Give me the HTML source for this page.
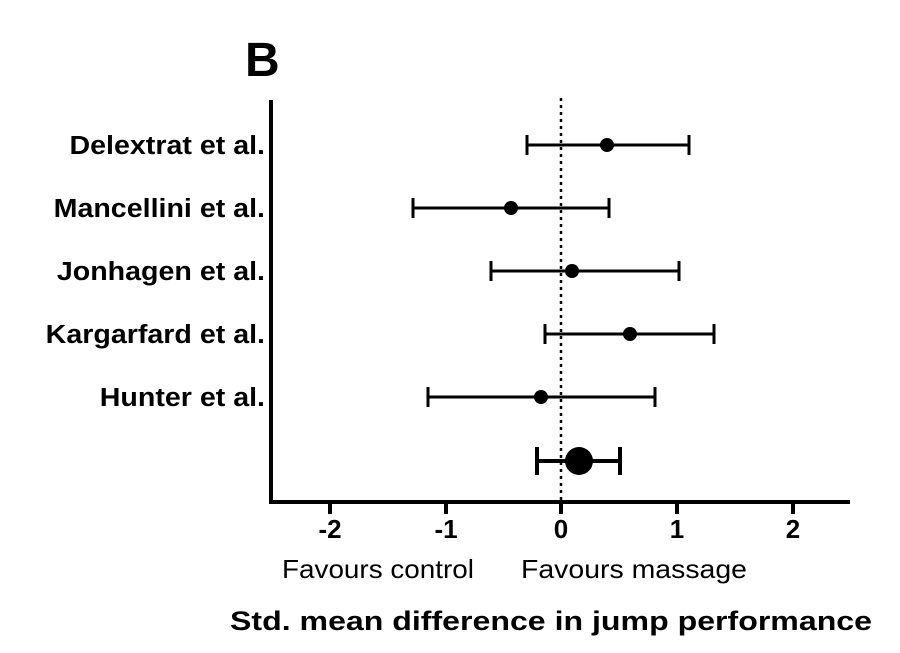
<!DOCTYPE html>
<html><head><style>body{margin:0;background:#fff}</style></head><body>
<svg width="900" height="648" xmlns="http://www.w3.org/2000/svg" font-family="Liberation Sans, sans-serif">
<rect width="900" height="648" fill="#fff"/>
<text x="245" y="76" font-size="48" font-weight="bold">B</text>
<g stroke="#000" stroke-width="4" fill="none">
<path d="M271 100 V502 H850"/>
<path d="M330 502v12M446 502v12M561 502v12M677 502v12M793 502v12"/>
</g>
<line x1="561" y1="98" x2="561" y2="500" stroke="#000" stroke-width="2.5" stroke-dasharray="3,4"/>
<g stroke="#000" stroke-width="3">
<path d="M527 145H689M527 135v20M689 135v20"/>
<path d="M413 208H609M413 198v20M609 198v20"/>
<path d="M491 271H679M491 261v20M679 261v20"/>
<path d="M545 334H714M545 324v20M714 324v20"/>
<path d="M428 397H655M428 387v20M655 387v20"/>
</g>
<g stroke="#000" stroke-width="4">
<path d="M537 461H620M537 447v28M620 447v28"/>
</g>
<g fill="#000">
<circle cx="607" cy="145" r="7"/>
<circle cx="511" cy="208" r="7"/>
<circle cx="572" cy="271" r="7"/>
<circle cx="630" cy="334" r="7"/>
<circle cx="541" cy="397" r="7"/>
<circle cx="579" cy="461" r="14"/>
</g>
<g font-size="26" font-weight="bold" text-anchor="end" transform="translate(265,0) scale(1.1,1) translate(-265,0)">
<text x="265" y="154">Delextrat et al.</text>
<text x="265" y="217">Mancellini et al.</text>
<text x="265" y="280">Jonhagen et al.</text>
<text x="265" y="343">Kargarfard et al.</text>
<text x="265" y="406">Hunter et al.</text>
</g>
<g font-size="26" font-weight="bold" text-anchor="middle">
<text x="330" y="538">-2</text><text x="446" y="538">-1</text><text x="561" y="538">0</text><text x="677" y="538">1</text><text x="793" y="538">2</text>
</g>
<text x="378" y="578" font-size="26" text-anchor="middle" textLength="192" lengthAdjust="spacingAndGlyphs">Favours control</text>
<text x="634" y="578" font-size="26" text-anchor="middle" textLength="226" lengthAdjust="spacingAndGlyphs">Favours massage</text>
<text x="551" y="630" font-size="27" font-weight="bold" text-anchor="middle" textLength="642" lengthAdjust="spacingAndGlyphs">Std. mean difference in jump performance</text>
</svg>
</body></html>
